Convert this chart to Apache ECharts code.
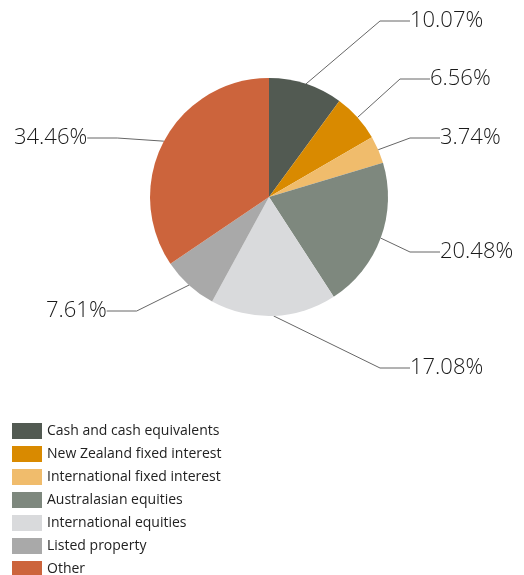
<!DOCTYPE html>
<html>
<head>
<meta charset="utf-8">
<script src="https://cdn.jsdelivr.net/npm/echarts@6/dist/echarts.min.js"></script>
<style>
  html, body { margin: 0; padding: 0; background: #fff; }
  #chart { width: 524px; height: 575px; }
</style>
</head>
<body>
<div id="chart"></div>
<script>
// allocation data
var categories = [
  'Cash and cash equivalents',
  'New Zealand fixed interest',
  'International fixed interest',
  'Australasian equities',
  'International equities',
  'Listed property',
  'Other'
]
var shares = [10.07, 6.56, 3.74, 20.48, 17.08, 7.61, 34.46]

var colors = ['#525a52', '#d98a00', '#f0bc6c', '#7e887e', '#d9dadc', '#a9a9a9', '#cc643c']
// where each percentage label sits (left edge, vertical middle)
var labelSpots = [[410, 21], [430, 79], [440, 138], [440, 252], [410, 368], [46, 311], [14, 138]]

var chart = echarts.init(document.getElementById('chart'))
var font = '"Open Sans", "Noto Sans", sans-serif'

chart.setOption({
  animation: false,
  color: colors,
  legend: {
    orient: 'vertical',
    left: 7,
    top: 418,
    height: 300,
    icon: 'rect',
    itemWidth: 30,
    itemHeight: 16,
    itemGap: 7,
    textStyle: {
      fontFamily: font,
      fontSize: 14,
      color: '#222'
    },
    data: categories
  },
  series: [
    {
      type: 'pie',
      center: [269, 197],
      radius: 119,
      startAngle: 90,
      clockwise: true,
      avoidLabelOverlap: false,
      label: {
        show: true,
        position: 'outside',
        fontFamily: font,
        fontSize: 22,
        fontWeight: 300,
        color: '#1a1a1a',
        formatter: function (p) {
          return p.value.toFixed(2) + '%'
        }
      },
      labelLine: {
        show: true,
        length: 20,
        length2: 30,
        lineStyle: { color: '#666', width: 1 }
      },
      labelLayout: function (p) {
        var s = labelSpots[p.dataIndex]
        return {
          x: s[0],
          y: s[1],
          align: 'left',
          verticalAlign: 'middle'
        }
      },
      emphasis: { disabled: true },
      data: categories.map(function (name, i) {
        return { name: name, value: shares[i] }
      })
    }
  ]
})
</script>
</body>
</html>
